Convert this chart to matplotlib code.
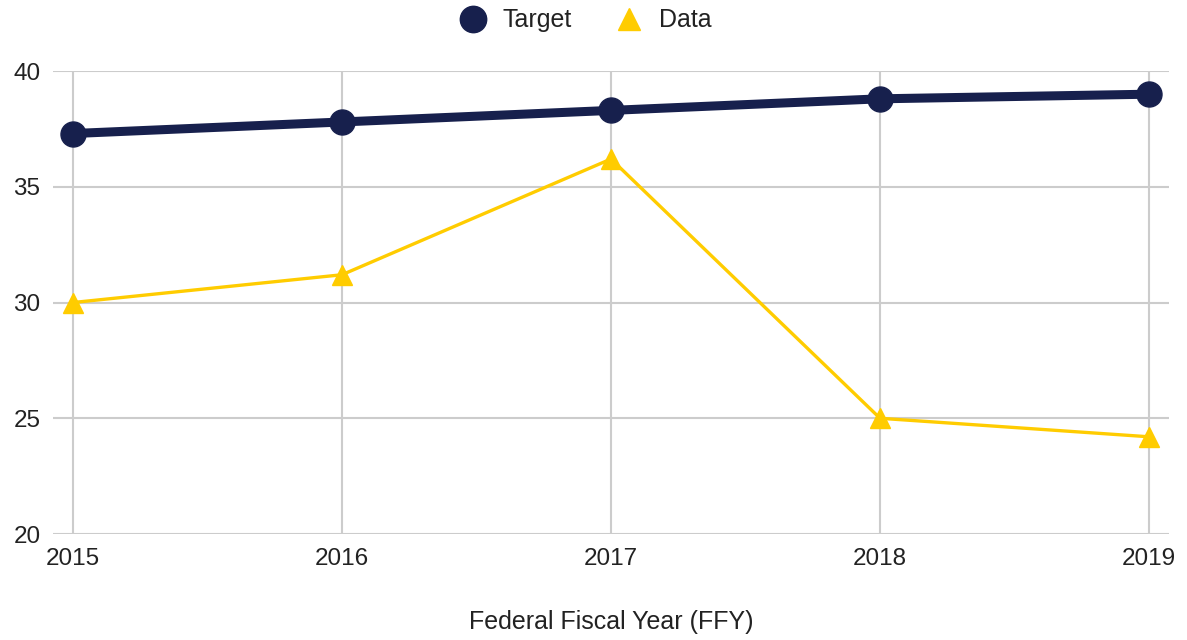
import matplotlib
matplotlib.use("Agg")
import matplotlib.pyplot as plt
from matplotlib.lines import Line2D

years = ["2015", "2016", "2017", "2018", "2019"]
target = [37.3, 37.8, 38.3, 38.8, 39.0]
data = [30.0, 31.2, 36.2, 25.0, 24.2]
y_ticks = [20, 25, 30, 35, 40]

plt.rcParams['font.family'] = ['Liberation Sans', 'DejaVu Sans']

fig = plt.figure(figsize=(11.87, 6.4), dpi=100)
ax = fig.add_axes([0.0447, 0.1656, 0.9401, 0.7234])

navy = "#17204d"
gold = "#ffcc00"
x = list(range(len(years)))

ax.plot(x, target, color=navy, linewidth=6.5, marker='o', markersize=18,
        solid_capstyle='round', zorder=4, clip_on=False)
ax.plot(x, data, color=gold, linewidth=2.4, marker='^', markersize=14,
        zorder=3, clip_on=False)

ax.set_xlim(-0.074, len(years) - 1 + 0.074)
ax.set_ylim(20, 40)
ax.set_yticks(y_ticks)
ax.set_xticks(x)
ax.set_xticklabels(years)

for s in ax.spines.values():
    s.set_visible(False)
ax.grid(True, color="#cccccc", linewidth=1.5)
ax.set_axisbelow(True)
ax.tick_params(axis='both', length=0, labelsize=17.5, colors="#222222")
ax.tick_params(axis='y', pad=9)
ax.tick_params(axis='x', pad=10)

ax.set_xlabel("Federal Fiscal Year (FFY)", fontsize=18, color="#222222", labelpad=29)

handles = [
    Line2D([], [], color=navy, marker='o', linestyle='None', markersize=19),
    Line2D([], [], color=gold, marker='^', linestyle='None', markersize=16),
]
fig.legend(handles, ["Target", "Data"], loc='center', bbox_to_anchor=(0.4916, 0.968),
           ncol=2, frameon=False, fontsize=18, handletextpad=0.5, columnspacing=1.6,
           labelcolor="#222222", handlelength=1.4)

fig.savefig("out.png", dpi=100)
